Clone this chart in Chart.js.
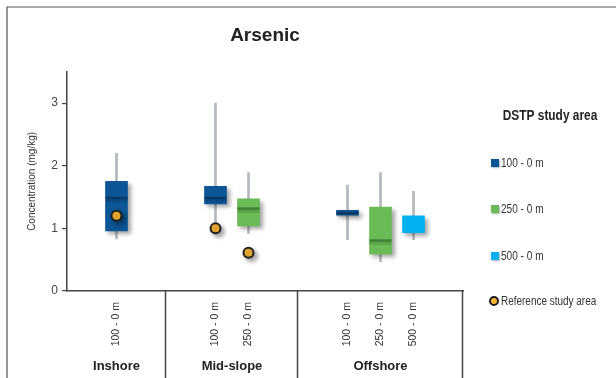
<!DOCTYPE html>
<html>
<head>
<meta charset="utf-8">
<script src="https://cdn.jsdelivr.net/npm/chart.js@4.4.1/dist/chart.umd.min.js"></script>
<style>
  html, body { margin: 0; padding: 0; background: #fff; }
  #wrap { width: 616px; height: 378px; overflow: hidden; }
</style>
</head>
<body>
<div id="wrap"><canvas id="arsenicChart" width="616" height="378"></canvas></div>
<script>
const groups = ['Inshore', 'Mid-slope', 'Offshore'];
const groupCentres = [1.5, 5, 9.5];
const groupEdges = [3, 7, 12];

const depthLabels = ['100 - 0 m', '100 - 0 m', '250 - 0 m', '100 - 0 m', '250 - 0 m', '500 - 0 m'];
const slotPositions = [1.5, 4.5, 5.5, 8.5, 9.5, 10.5];
const slotSeries = [0, 0, 1, 0, 1, 2];

// box plot statistics per slot (mg/kg)
const whiskerLow = [0.83, 1.10, 0.92, 0.82, 0.47, 0.82];
const q1 = [0.96, 1.39, 1.04, 1.21, 0.59, 0.93];
const median = [1.49, 1.49, 1.32, 1.25, 0.81, null];
const q3 = [1.75, 1.67, 1.47, 1.29, 1.34, 1.20];
const whiskerHigh = [2.20, 3.00, 1.89, 1.69, 1.89, 1.59];

const refPositions = [1.5, 4.5, 5.5];
const refValues = [1.20, 1.00, 0.61];

const seriesNames = ['100 - 0 m', '250 - 0 m', '500 - 0 m'];
const seriesColors = ['#0c5596', '#6aba55', '#00b0f0'];
const medianColors = ['#083a69', '#3f7f34', '#0085b8'];

const FONT = "'Liberation Sans', Arial, sans-serif";

const boxDatasets = seriesNames.map((name, s) => ({
  type: 'bar',
  label: name,
  order: 2,
  data: slotPositions
    .map((x, i) => ({ x: x, y: [q1[i], q3[i]], median: median[i], s: slotSeries[i] }))
    .filter(d => d.s === s),
  backgroundColor: seriesColors[s],
  barThickness: 22,
  grouped: false,
  isBox: true,
  medianColor: medianColors[s]
}));

const whiskers = {
  type: 'bar',
  label: 'range',
  order: 3,
  data: slotPositions.map((x, i) => ({ x: x, y: [whiskerLow[i], whiskerHigh[i]] })),
  backgroundColor: '#b3b8bd',
  barThickness: 2,
  grouped: false
};

const reference = {
  type: 'scatter',
  label: 'Reference study area',
  order: 0,
  data: refPositions.map((x, i) => ({ x: x, y: refValues[i] })),
  pointRadius: 5,
  pointBackgroundColor: '#f8b536',
  pointBorderColor: '#1d1d1d',
  pointBorderWidth: 2,
  isRef: true
};

// soft drop shadow under boxes and points, median bar on top of each box
const boxDecor = {
  id: 'boxDecor',
  beforeDatasetDraw(chart, args) {
    const ds = chart.data.datasets[args.index];
    if (!ds.isBox && !ds.isRef) return;
    const ctx = chart.ctx;
    ctx.save();
    ctx.shadowColor = 'rgba(0,0,0,0.35)';
    ctx.shadowBlur = 4;
    ctx.shadowOffsetX = 3;
    ctx.shadowOffsetY = 3;
  },
  afterDatasetDraw(chart, args) {
    const ds = chart.data.datasets[args.index];
    if (!ds.isBox && !ds.isRef) return;
    const ctx = chart.ctx;
    ctx.restore();
    if (!ds.isBox) return;
    const y = chart.scales.y;
    args.meta.data.forEach((bar, i) => {
      const m = ds.data[i].median;
      if (m == null) return;
      const py = y.getPixelForValue(m);
      const half = bar.width / 2;
      ctx.fillStyle = ds.medianColor;
      ctx.fillRect(bar.x - half, py - 1, bar.width, 2.5);
      ctx.fillStyle = 'rgba(0,0,0,0.12)';
      ctx.fillRect(bar.x - half, py + 1.5, bar.width, 3);
    });
  }
};

// narrow lettering for the legend
function narrowText(ctx, text, x, y, squeeze) {
  ctx.save();
  ctx.translate(x, y);
  ctx.scale(squeeze, 1);
  ctx.fillText(text, 0, 0);
  ctx.restore();
}

// outer frame, group separators and the legend at the right
const frame = {
  id: 'frame',
  beforeDraw(chart) {
    const ctx = chart.ctx;
    ctx.save();
    ctx.strokeStyle = '#555';
    ctx.lineWidth = 1.2;
    ctx.beginPath();
    ctx.moveTo(7, chart.height + 2);
    ctx.lineTo(7, 7);
    ctx.lineTo(chart.width + 2, 7);
    ctx.stroke();
    ctx.restore();
  },
  afterDraw(chart) {
    const ctx = chart.ctx;
    const x = chart.scales.x;
    const area = chart.chartArea;
    ctx.save();
    ctx.strokeStyle = '#444';
    ctx.lineWidth = 1.5;
    groupEdges.forEach(v => {
      const px = Math.round(x.getPixelForValue(v)) - 0.5;
      ctx.beginPath();
      ctx.moveTo(px, area.bottom);
      ctx.lineTo(px, chart.height);
      ctx.stroke();
    });

    // legend
    ctx.fillStyle = '#222';
    ctx.font = 'bold 14px ' + FONT;
    ctx.textAlign = 'center';
    ctx.textBaseline = 'middle';
    narrowText(ctx, 'DSTP study area', 550, 116, 0.85);

    ctx.font = '12px ' + FONT;
    ctx.textAlign = 'left';
    const rows = [163, 209, 256];
    seriesNames.forEach((name, s) => {
      ctx.save();
      ctx.shadowColor = 'rgba(0,0,0,0.3)';
      ctx.shadowBlur = 2;
      ctx.shadowOffsetX = 1;
      ctx.shadowOffsetY = 1;
      ctx.fillStyle = seriesColors[s];
      ctx.fillRect(491, rows[s] - 4, 8, 8);
      ctx.restore();
      ctx.fillStyle = '#333';
      narrowText(ctx, name, 501, rows[s] + 1, 0.84);
    });
    ctx.beginPath();
    ctx.arc(494, 301, 4, 0, Math.PI * 2);
    ctx.fillStyle = reference.pointBackgroundColor;
    ctx.fill();
    ctx.lineWidth = 2;
    ctx.strokeStyle = reference.pointBorderColor;
    ctx.stroke();
    ctx.fillStyle = '#333';
    narrowText(ctx, reference.label, 501, 302, 0.83);
    ctx.restore();
  }
};

new Chart(document.getElementById('arsenicChart'), {
  type: 'bar',
  data: { datasets: [...boxDatasets, whiskers, reference] },
  plugins: [boxDecor, frame],
  options: {
    responsive: false,
    animation: false,
    layout: { padding: { left: 0, right: 153, top: 0, bottom: 0 } },
    plugins: {
      legend: { display: false },
      tooltip: { enabled: false },
      title: {
        display: true,
        text: 'Arsenic',
        fullSize: false,
        color: '#222',
        font: { family: FONT, size: 19, weight: 'bold' },
        padding: { top: 24, bottom: 25 }
      }
    },
    scales: {
      x: {
        type: 'linear',
        min: 0,
        max: 12,
        offset: false,
        position: 'bottom',
        weight: 0,
        afterBuildTicks: s => { s.ticks = slotPositions.map(v => ({ value: v })); },
        afterFit: s => { s.height = 62; },
        grid: { display: false, drawTicks: false, offset: false },
        border: { display: true, color: '#444', width: 1.5 },
        ticks: {
          autoSkip: false,
          minRotation: 90,
          maxRotation: 90,
          padding: 11,
          color: '#333',
          font: { family: FONT, size: 10.5 },
          callback: (v, i) => depthLabels[i]
        }
      },
      groups: {
        type: 'linear',
        min: 0,
        max: 12,
        offset: false,
        position: 'bottom',
        weight: 1,
        afterBuildTicks: s => { s.ticks = groupCentres.map(v => ({ value: v })); },
        afterFit: s => { s.height = 25; },
        grid: { display: false, drawTicks: false, offset: false },
        border: { display: false },
        ticks: {
          autoSkip: false,
          maxRotation: 0,
          padding: 6,
          color: '#222',
          font: { family: FONT, size: 13, weight: 'bold' },
          callback: (v, i) => groups[i]
        }
      },
      y: {
        min: 0,
        max: 3.5,
        afterFit: s => { s.width = 67; },
        grid: { drawOnChartArea: false, tickLength: 5, color: '#444', lineWidth: 1.2 },
        border: { color: '#444', width: 1.5 },
        ticks: {
          stepSize: 1,
          includeBounds: false,
          padding: 4,
          color: '#444',
          font: { family: FONT, size: 12 }
        },
        title: {
          display: true,
          text: 'Concentration (mg/kg)',
          color: '#333',
          font: { family: FONT, size: 10 },
          padding: { top: 26, bottom: 0 }
        }
      }
    }
  }
});
</script>
</body>
</html>
